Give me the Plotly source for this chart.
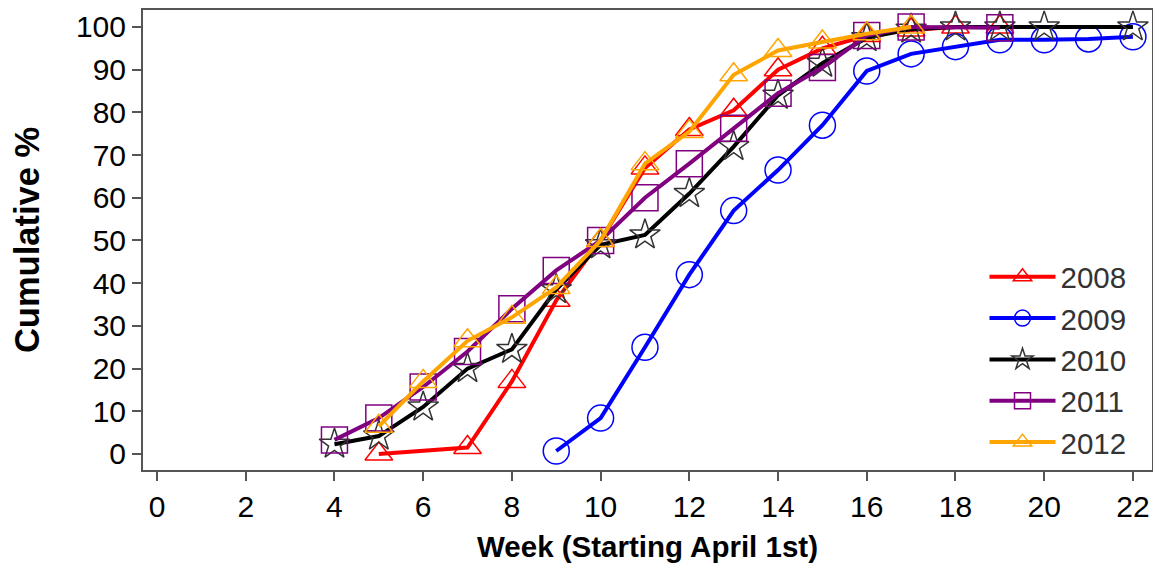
import plotly.graph_objects as go

weeks_2008 = [5, 7, 8, 9, 10, 11, 12, 13, 14, 15, 16, 17, 18, 19]
vals_2008 = [0, 1.5, 17, 36, 50, 67, 76, 80.5, 90, 95, 98, 99.3, 100, 100]

weeks_2009 = [9, 10, 11, 12, 13, 14, 15, 16, 17, 18, 19, 20, 21, 22]
vals_2009 = [0.7, 8.4, 25, 42, 57, 66.5, 77, 89.7, 93.7, 95.4, 97, 97, 97.2, 97.7]

weeks_2010 = [4, 5, 6, 7, 8, 9, 10, 11, 12, 13, 14, 15, 16, 17, 18, 19, 20, 22]
vals_2010 = [2.3, 4.2, 11, 20, 24.5, 38.5, 49, 51.3, 61, 72, 84, 91.5, 97.5, 99.5, 100, 100, 100, 100]

weeks_2011 = [4, 5, 6, 7, 8, 9, 10, 11, 12, 13, 14, 15, 16, 17, 19]
vals_2011 = [3.3, 8.4, 15.7, 24, 34, 43, 50, 60, 68, 76.3, 84.5, 90.5, 98, 100, 99.8]

weeks_2012 = [5, 6, 7, 8, 9, 10, 11, 12, 13, 14, 15, 16, 17]
vals_2012 = [6.5, 17, 26.5, 32, 39, 50, 68, 75.5, 88.8, 94.5, 96.5, 98.4, 100]

x_ticks = list(range(0, 23, 2))
y_ticks = list(range(0, 101, 10))

series = [
    ("2008", weeks_2008, vals_2008, "#FF0000", "triangle-up-open", 24),
    ("2009", weeks_2009, vals_2009, "#0000FF", "circle-open", 26),
    ("2010", weeks_2010, vals_2010, "#000000", "star-open", 23),
    ("2011", weeks_2011, vals_2011, "#800080", "square-open", 26),
    ("2012", weeks_2012, vals_2012, "#FFA500", "triangle-up-open", 24),
]

FONT = "Liberation Sans, Arial, sans-serif"

fig = go.Figure()
for name, xs, ys, color, sym, size in series:
    mcol = "#333333" if name == "2010" else color
    fig.add_trace(go.Scatter(
        x=xs, y=ys, name=name, mode="lines+markers",
        line=dict(color=color, width=4),
        marker=dict(symbol=sym, size=size, color=mcol,
                    line=dict(color=mcol, width=1.5)),
    ))

axis_common = dict(
    showline=True, linecolor="#555555", linewidth=2, mirror=True,
    ticks="outside", ticklen=9, tickwidth=2, tickcolor="#555555",
    showgrid=False, zeroline=False, automargin=False,
)

fig.update_layout(
    width=1153, height=565,
    margin=dict(l=135, r=9, t=2, b=103),
    paper_bgcolor="white", plot_bgcolor="white",
    font=dict(family=FONT, color="black"),
    xaxis=dict(range=[-0.316, 22.43], tickvals=x_ticks,
               tickfont=dict(size=30, color="black"),
               title=dict(text="<b>Week (Starting April 1st)</b>",
                          font=dict(size=29.5, color="black"), standoff=14),
               **axis_common),
    yaxis=dict(range=[-3.75, 103.98], tickvals=y_ticks,
               tickfont=dict(size=30, color="black"),
               title=dict(text="<b>Cumulative %</b>",
                          font=dict(size=34.5, color="black"), standoff=38),
               **axis_common),
    legend=dict(x=0.834, y=0.476, xanchor="left", yanchor="top",
                bgcolor="rgba(0,0,0,0)", borderwidth=0,
                font=dict(size=29.5, color="#333333", family=FONT),
                itemwidth=66, tracegroupgap=0),
    showlegend=True,
)

fig.write_html("out.html")
